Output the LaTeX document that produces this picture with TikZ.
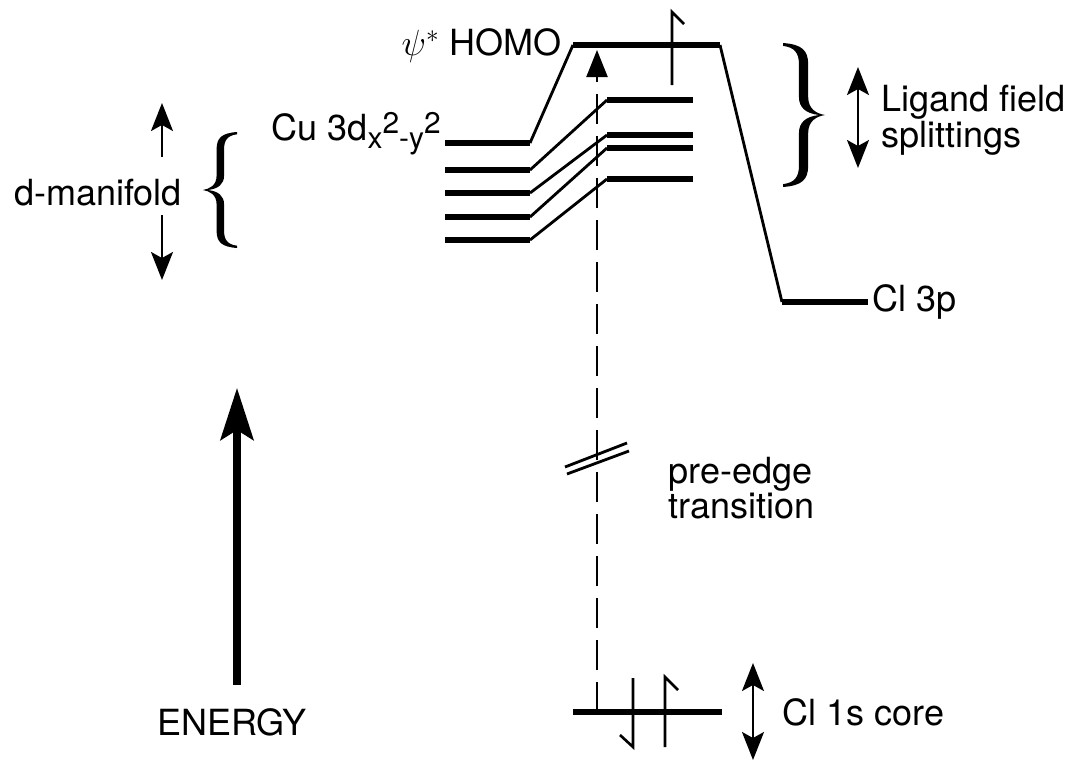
\documentclass[tikz,border=0pt]{standalone}
\usepackage{fontspec}
\setmainfont{TeX Gyre Heros}
\usetikzlibrary{arrows.meta}
\tikzset{
	levelline/.style={
			line width=2.9pt,
			line cap=butt
		},
	linkline/.style={
			line width=1.6pt
		},
	spinline/.style={
			line width=1.5pt,
			line join=miter
		},
	smallarrow/.style={
			line width=1.1pt,
			-{Stealth[length=5.6mm, width=4.4mm, inset=1.2mm]}
		},
	bothwayarrow/.style={
			line width=1.1pt,
			{Stealth[length=5.6mm, width=4.4mm, inset=1.2mm]}-{Stealth[length=5.6mm, width=4.4mm, inset=1.2mm]}
		},
	energyarrow/.style={
			line width=4pt,
			-{Stealth[length=10.4mm, width=6.6mm, inset=2mm]}
		},
	excitearrow/.style={
			line width=1.3pt,
			dash pattern=on 6mm off 2.4mm,
			-{Triangle[length=5.4mm, width=4.2mm]}
		},
	lbl/.style={
			font=\fontsize{20.5pt}{18.5pt}\selectfont,
			inner sep=0pt
		},
	bracemark/.pic={
			\fill (1,1) .. controls (0.55,0.98) and (0.4,0.9) .. (0.4,0.7)
			  -- (0.4,0.25) .. controls (0.4,0.08) and (0.2,0.02) .. (0,0)
			  .. controls (0.2,-0.02) and (0.4,-0.08) .. (0.4,-0.25)
			  -- (0.4,-0.7) .. controls (0.4,-0.9) and (0.55,-0.98) .. (1,-1)
			  -- (1,-0.96) .. controls (0.72,-0.94) and (0.62,-0.86) .. (0.62,-0.7)
			  -- (0.62,-0.25) .. controls (0.62,-0.1) and (0.45,-0.02) .. (0.14,0)
			  .. controls (0.45,0.02) and (0.62,0.1) .. (0.62,0.25)
			  -- (0.62,0.7) .. controls (0.62,0.86) and (0.72,0.94) .. (1,0.96) -- cycle;
		}
}
\begin{document}
\begin{tikzpicture}[x=0.2mm, y=-0.2mm]
\useasboundingbox (0,0) rectangle (1076,763);

% level ends
\coordinate (cu1) at (445,143);
\coordinate (cu2) at (530,143);
\coordinate (ho1) at (573,45);
\coordinate (ho2) at (720,45);
\coordinate (cp1) at (782,302);
\coordinate (cp2) at (868,302);
\coordinate (cs1) at (573,712);
\coordinate (cs2) at (722,712);

\draw[levelline] (cu1) -- (cu2);
\draw[linkline] (cu2) -- (ho1);
\draw[levelline] (ho1) -- (ho2);
\draw[linkline] (ho2) -- (cp1);
\draw[levelline] (cp1) -- (cp2);
\draw[levelline] (cs1) -- (cs2);

\foreach \yl/\yr [count=\i] in {170/100, 193/135, 217/148, 240/179} {
  \coordinate (dl\i) at (445,\yl);
  \coordinate (dm\i) at (530,\yl);
  \coordinate (dn\i) at (607,\yr);
  \coordinate (dr\i) at (693,\yr);
  \draw[levelline] (dl\i) -- (dm\i);
  \draw[linkline] (dm\i) -- (dn\i);
  \draw[levelline] (dn\i) -- (dr\i);
}

% labels
\node[lbl, anchor=east] (homo) at (562,46) {$\psi^{*}$ HOMO};
\node[lbl, anchor=base east] (cu) at (441,140) {Cu 3d{\fontsize{17pt}{17pt}\selectfont\raisebox{-0.28em}{x\raisebox{0.5em}{2}-y\raisebox{0.5em}{2}}}};
\node[lbl] (dman) at (98,193) {d-manifold};
\node[lbl, anchor=west, align=left] (lig) at (881,120) {Ligand field\\splittings};
\node[lbl, anchor=west] (clp) at (872,302) {Cl 3p};
\node[lbl, anchor=west, align=left] (pre) at (668,488) {pre-edge\\transition};
\node[lbl, anchor=west] (core) at (782,712) {Cl 1s core};
\node[lbl] (energy) at (232,722) {ENERGY};

% braces
\begin{scope}[shift={(203,190)}, x=6.8mm, y=11.6mm]
  \pic (lbrace) {bracemark};
\end{scope}
\begin{scope}[shift={(825,115)}, x=-8.4mm, y=14.4mm]
  \pic (rbrace) {bracemark};
\end{scope}

% arrows
\coordinate (mu1) at (162,157);
\coordinate (mu2) at (162,103);
\coordinate (md1) at (162,215);
\coordinate (md2) at (162,280);
\draw[smallarrow] (mu1) -- (mu2);
\draw[smallarrow] (md1) -- (md2);

\coordinate (lg1) at (858,67);
\coordinate (lg2) at (858,168);
\draw[bothwayarrow] (lg1) -- (lg2);

\coordinate (cr1) at (753,663);
\coordinate (cr2) at (753,760);
\draw[bothwayarrow] (cr1) -- (cr2);

\coordinate (en1) at (237,685);
\coordinate (en2) at (237,388);
\draw[energyarrow] (en1) -- (en2);

\coordinate (ex1) at (597,712);
\coordinate (ex2) at (597,50);
\draw[excitearrow] (ex1) -- (ex2);

% break marks
\coordinate (bk1) at (565,467);
\coordinate (bk2) at (627,443);
\coordinate (bk3) at (567,474);
\coordinate (bk4) at (629,451);
\draw[linkline] (bk1) -- (bk2);
\draw[linkline] (bk3) -- (bk4);

% spins
\coordinate (sh1) at (672,85);
\coordinate (sh2) at (672,12);
\draw[spinline] (sh1) -- (sh2) -- ++(12,12);
\coordinate (sd1) at (633,678);
\coordinate (sd2) at (633,747);
\draw[spinline] (sd1) -- (sd2) -- ++(-13,-12);
\coordinate (su1) at (665,747);
\coordinate (su2) at (665,677);
\draw[spinline] (su1) -- (su2) -- ++(13,13);
\end{tikzpicture}
\end{document}
